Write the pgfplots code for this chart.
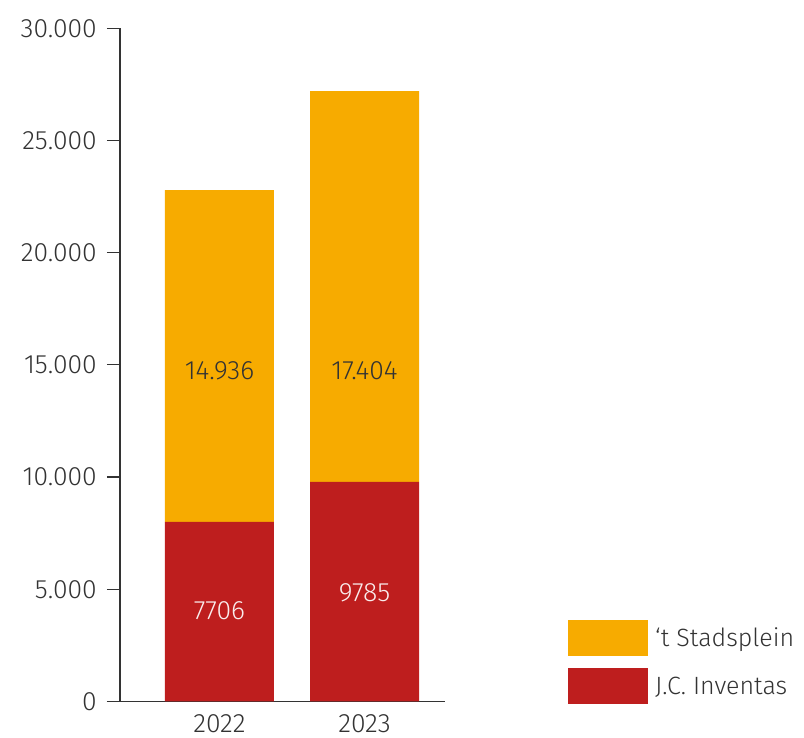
\documentclass[border=0pt]{standalone}
\usepackage{pgfplots}
\pgfplotsset{compat=1.18}
\usepackage{fontspec}
\setmainfont{Fira Sans Light}
\definecolor{cOrange}{HTML}{F7AB00}
\definecolor{cRed}{HTML}{BE1E1E}
\definecolor{cText}{HTML}{333333}
\newcommand{\lbl}{\fontsize{26.5}{30}\selectfont}
\newcommand{\lgd}{\fontsize{25}{30}\selectfont}
\begin{document}
\begin{tikzpicture}
\useasboundingbox (-120pt,-36.5pt) rectangle (684pt,701.5pt);
\begin{axis}[
  at={(0pt,0pt)}, anchor=south west,
  scale only axis,
  width=325pt, height=673.2pt,
  ybar stacked,
  bar width=109pt,
  xmin=-0.686, xmax=1.555,
  ymin=0, ymax=30000,
  scaled ticks=false,
  xtick={0,1}, xticklabels={2022,2023},
  ytick={0,5000,10000,15000,20000,25000,30000},
  yticklabels={0,5.000,10.000,15.000,20.000,25.000,30.000},
  axis x line*=bottom, axis y line*=left,
  axis line style={-, draw=cText, line width=1.2pt},
  x axis line style={shorten <=-13pt},
  tick align=outside,
  major tick length=13pt,
  ytick style={draw=cText, line width=1.2pt},
  xtick style={draw=none},
  every tick label/.append style={font=\lbl, text=cText},
  yticklabel style={inner sep=0pt, xshift=-10pt},
  xticklabel style={inner sep=0pt, anchor=north, yshift=0.5pt},
  legend style={at={(1.3785,0.1211)}, anchor=north west, draw=none, fill=none,
    inner sep=0pt, row sep=12pt, column sep=0pt,
    font=\lgd, text=cText,
    nodes={inner sep=0pt, anchor=west}},
  legend image code/.code={\fill[#1] (0pt,-18pt) rectangle (80pt,18pt); \path (87pt,0pt);},
  reverse legend,
  clip=false,
]
\addplot[fill=cRed, draw=none] coordinates {(0,8000) (1,9785)};
\addlegendentry{J.C. Inventas}
\addplot[fill=cOrange, draw=none] coordinates {(0,14790) (1,17420)};
\addlegendentry{‘t Stadsplein}
\coordinate (la) at (axis cs:0,14728);
\coordinate (lb) at (axis cs:1,14728);
\coordinate (lc) at (axis cs:0,4030);
\coordinate (ld) at (axis cs:1,4840);
\end{axis}
\node[text=cText, font=\lbl] at (la) {14.936};
\node[text=cText, font=\lbl] at (lb) {17.404};
\node[text=white!92!cRed, font=\lbl] at (lc) {7706};
\node[text=white!92!cRed, font=\lbl] at (ld) {9785};
\end{tikzpicture}
\end{document}
